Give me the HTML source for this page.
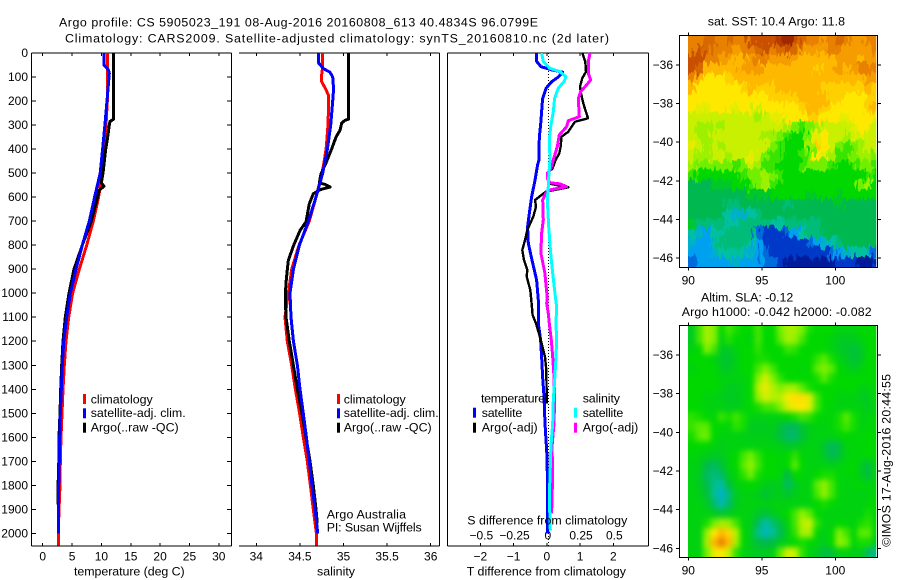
<!DOCTYPE html>
<html lang="en">
<head>
<meta charset="utf-8">
<title>Argo profile CS 5905023_191</title>
<style>
html,body{margin:0;padding:0;background:#fff;}
svg{display:block;}
text{font-family:"Liberation Sans",Arial,sans-serif;font-size:12px;fill:#000;}
text[textLength]{font-size:12.4px;}
</style>
</head>
<body>
<svg id="fig" width="900" height="580" viewBox="0 0 900 580" xmlns="http://www.w3.org/2000/svg">
<defs>
<clipPath id="clip-sst"><rect x="688" y="35.3" width="188.3" height="231.7"/></clipPath>
<clipPath id="clip-sla"><rect x="688" y="325.7" width="188.3" height="231.6"/></clipPath>
<filter id="soft" filterUnits="userSpaceOnUse" x="660" y="300" width="240" height="280" color-interpolation-filters="sRGB"><feGaussianBlur stdDeviation="2.6 3"/></filter>
<filter id="jagged" filterUnits="userSpaceOnUse" x="660" y="10" width="240" height="285" color-interpolation-filters="sRGB">
<feTurbulence type="fractalNoise" baseFrequency="0.28 0.09" numOctaves="2" seed="4" result="noise"/>
<feDisplacementMap in="SourceGraphic" in2="noise" scale="16" xChannelSelector="R" yChannelSelector="G"/>
</filter>
</defs>
<rect width="900" height="580" fill="#fff"/>

<text x="59" y="26.7" textLength="479">Argo profile: CS 5905023_191 08-Aug-2016 20160808_613 40.4834S 96.0799E</text>
<text x="65" y="42.3" textLength="544">Climatology: CARS2009. Satellite-adjusted climatology: synTS_20160810.nc (2d later)</text>

<g id="p1"></g>
<g id="p2"></g>
<g id="p3"></g>
<g id="m1"></g>
<g id="m2"></g>

<text x="74" y="575.7" textLength="110.7">temperature (deg C)</text>
<text x="317" y="575.7" textLength="38">salinity</text>
<text x="466.7" y="575.7" textLength="159.3">T difference from climatology</text>
<text x="467.3" y="524.3" textLength="160">S difference from climatology</text>

<g>
<rect x="83" y="394" width="3" height="10" fill="#f00"/>
<text x="90.7" y="403.3" textLength="62">climatology</text>
<rect x="83" y="408.3" width="3" height="10" fill="#00f"/>
<text x="90.7" y="417" textLength="95">satellite-adj. clim.</text>
<rect x="83" y="422.7" width="3" height="10" fill="#000"/>
<text x="90.7" y="431.3" textLength="88">Argo(..raw -QC)</text>
</g>
<g>
<rect x="337" y="394" width="3" height="10" fill="#f00"/>
<text x="343.7" y="403.3" textLength="62">climatology</text>
<rect x="337" y="408.3" width="3" height="10" fill="#00f"/>
<text x="343.7" y="417" textLength="95">satellite-adj. clim.</text>
<rect x="337" y="422.7" width="3" height="10" fill="#000"/>
<text x="343.7" y="431.3" textLength="88">Argo(..raw -QC)</text>
</g>
<text x="326.7" y="518.3" textLength="79.3">Argo Australia</text>
<text x="326.7" y="531.7" textLength="95">PI: Susan Wijffels</text>

<g>
<text x="481" y="402.7" textLength="64">temperature</text>
<text x="582.7" y="402.7" textLength="37.3">salinity</text>
<rect x="473" y="407.7" width="3" height="10" fill="#00f"/>
<text x="481.7" y="417" textLength="40.6">satellite</text>
<rect x="473" y="422.7" width="3" height="10" fill="#000"/>
<text x="481.7" y="431.3" textLength="56">Argo(-adj)</text>
<rect x="574" y="407.7" width="3" height="10" fill="#0ff"/>
<text x="582.7" y="417" textLength="40.6">satellite</text>
<rect x="574" y="422.7" width="3" height="10" fill="#f0f"/>
<text x="582.7" y="431.3" textLength="55.6">Argo(-adj)</text>
</g>

<text x="707.7" y="25.3" textLength="137.3">sat. SST: 10.4 Argo: 11.8</text>
<text x="701" y="301.7" textLength="92.3">Altim. SLA: -0.12</text>
<text x="681.7" y="316" textLength="190">Argo h1000: -0.042 h2000: -0.082</text>
<text transform="translate(890.7 546.7) rotate(-90)" textLength="172.7">©IMOS 17-Aug-2016 20:44:55</text>
</svg>

<script>
// ---------- profile data ----------
const depthTicks = [0,100,200,300,400,500,600,700,800,900,1000,1100,1200,1300,1400,1500,1600,1700,1800,1900,2000];
const tempTicks = [0,5,10,15,20,25,30];
const salTicks = [34,34.5,35,35.5,36];
const salTickLabels = ['34','34.5','35','35.5','36'];
const tDiffTicks = [-2,-1,0,1,2];
const tDiffTickLabels = ['\u22122','\u22121','0','1','2'];
const sDiffTicks = [-0.5,-0.25,0,0.25,0.5];
const sDiffTickLabels = ['\u22120.5','\u22120.25','0','0.25','0.5'];
const lonTicks = [90,95,100];
const latTicks = [-36,-38,-40,-42,-44,-46];
const latTickLabels = ['\u221236','\u221238','\u221240','\u221242','\u221244','\u221246'];

const tempClimDepth = [0,70,100,200,300,400,500,600,700,800,900,1000,1100,1200,1300,1400,1500,1600,1700,1800,1900,2000,2050];
const tempClim = [11.0,11.0,11.07,11.0,10.78,10.5,10.16,9.53,8.62,7.49,6.24,5.1,4.43,3.97,3.68,3.45,3.28,3.11,3.0,2.95,2.78,2.66,2.66];
const tempSatDepth = [0,50,70,85,165,200,300,400,500,600,700,800,900,1000,1100,1200,1300,1400,1500,1600,1700,1800,1900,2000];
const tempSat = [10.44,10.44,11.18,11.35,11.07,10.96,10.6,10.2,9.8,8.85,7.94,6.75,5.67,4.7,4.09,3.57,3.34,3.17,3.0,2.89,2.83,2.72,2.66,2.66];
const tempArgoDepth = [0,275,285,300,350,400,500,540,555,570,600,700,800,900,1000,1100,1200,1300,1400,1500,1600,1700,1800,1900];
const tempArgo = [12.1,12.1,11.46,11.35,11.07,10.73,10.27,9.98,10.44,9.65,9.36,8.28,6.75,5.33,4.48,3.85,3.45,3.23,3.06,2.95,2.78,2.75,2.62,2.66];

const salClimDepth = [0,70,100,120,150,175,200,300,400,470,500,600,700,800,900,1000,1100,1200,1300,1400,1500,1600,1700,1800,1900,2000,2050];
const salClim = [34.757,34.757,34.746,34.75,34.796,34.826,34.83,34.822,34.8,34.769,34.753,34.685,34.608,34.49,34.406,34.367,34.329,34.356,34.406,34.448,34.497,34.539,34.585,34.62,34.654,34.689,34.689];
const salSatDepth = [0,40,65,80,100,150,200,300,400,500,600,700,800,900,1000,1100,1200,1300,1400,1500,1600,1700,1800,1900,2000];
const salSat = [34.711,34.711,34.769,34.845,34.876,34.887,34.876,34.853,34.815,34.761,34.685,34.597,34.494,34.425,34.386,34.398,34.425,34.471,34.501,34.539,34.574,34.608,34.639,34.674,34.704];
const salArgoDepth = [0,275,280,292,322,350,400,461,503,541,547,558,569,586,628,703,739,803,864,903,961,1003,1040,1100,1200,1300,1400,1500,1600,1700,1800,1900,1960];
const salArgo = [35.059,35.059,35.017,34.979,34.96,34.914,34.864,34.796,34.742,34.723,34.788,34.845,34.731,34.654,34.608,34.57,34.501,34.425,34.367,34.356,34.34,34.335,34.335,34.341,34.379,34.425,34.471,34.524,34.57,34.616,34.654,34.685,34.7];

const dtSatDepth = [0,35,57,70,80,100,120,147,190,245,300,350,445,466,530,600,668,723,792,862,945,1028,1125,1195,1264,1347,1431,1542,1680,1819,1958,2000];
const dtSat = [-0.316,-0.306,-0.175,0.145,0.476,0.346,0.145,-0.025,-0.125,-0.155,-0.185,-0.226,-0.236,-0.276,-0.356,-0.456,-0.526,-0.576,-0.556,-0.446,-0.306,-0.256,-0.256,-0.185,-0.155,-0.125,-0.085,-0.055,0.005,0.025,0.025,0.025];
const dtArgoDepth = [0,36,78,105,140,168,210,272,286,307,328,348,390,418,445,480,501,543,559,577,612,640,681,737,779,820,862,903,931,987,1042,1091,1126,1168,1209,1265,1320,1404,1459];
const dtArgo = [1.068,1.158,1.178,1.068,0.998,1.028,1.098,1.238,0.847,0.747,0.647,0.446,0.416,0.376,0.266,0.175,0.015,0.045,0.647,-0.025,-0.356,-0.326,-0.406,-0.586,-0.657,-0.737,-0.687,-0.586,-0.606,-0.496,-0.456,-0.426,-0.326,-0.236,-0.155,-0.055,-0.015,-0.005,-0.005];
const dsSatDepth = [0,36,64,78,99,119,147,189,244,307,362,445,501,556,612,723,834,917,987,1056,1126,1195,1265,1347,1445,1542,1640,1723,1848,1987];
const dsSat = [-0.039,-0.026,0.024,0.099,0.144,0.129,0.086,0.059,0.049,0.029,0.019,0.024,0.016,0.011,0.004,0.014,0.029,0.044,0.059,0.074,0.069,0.074,0.069,0.061,0.049,0.044,0.031,0.026,0.019,0.026];
const dsArgoDepth = [0,36,85,112,133,161,189,265,282,307,341,390,445,480,501,522,540,545,556,570,581,612,695,751,834,917,1021,1042,1084,1126,1195,1265,1348,1445,1542,1640,1751,1918];
const dsArgo = [0.325,0.312,0.312,0.33,0.299,0.254,0.237,0.244,0.162,0.149,0.094,0.079,0.049,0.031,0.004,0.004,0.024,0.099,0.149,0.024,-0.006,-0.031,-0.026,-0.039,-0.044,-0.014,0.004,-0.001,0.011,0.019,0.034,0.044,0.054,0.059,0.054,0.039,0.044,0.036];
const zeroLineValue = [0.05,0.05];
const zeroLineDepth = [0,2050];

// ---------- map grids: 0.5 degree cells, colour level values ----------
const sstGrid = [
[10,10,10.5,10.5,10,10.5,10,10,11,11,11,11,11.5,12,11,10.5,10,10,9.5,10,10.5,10,9.5,9.5,10,10],
[10,11,10.5,10,10,10,9.5,10,10,10.5,11,10,10.5,11,10.5,9.5,9.5,9.5,9.5,10,10,9.5,9.5,9.5,9.5,10],
[11,11,10,10,9.5,9.5,9,9,9.5,10,10,9.5,9.5,9.5,9.5,9,9,9,9,9,9.5,9.5,9.5,9,9.5,9.5],
[11,10.5,9,9,9,9,9,9.5,9.5,9.5,9,9,9,9,9,9,9,8.5,9,9,9.5,9,9.5,10,10,10],
[10,9,8,8,8,8.5,9,9,9,9,9,9,9,9,9,9,9,9,9,9,9,9,9,9,9.5,9.5],
[9,8,8,8,8,8,8,8.5,9,8.5,8.5,8.5,9,9,9,9,9,9,8.5,8.5,8.5,8.5,8.5,8.5,9,8.5],
[8,8,8,8,8,8,8,8,8,8,8,8.5,8.5,8.5,8.5,9,9,9,9,8.5,8.5,8,8,8,8.5,8.5],
[8,7.5,7.5,8,8,8,7.5,8,8,7,8,8,8,8,8,8.5,9,9,8.5,8,8,8,8,8,8.5,9],
[7,7,7,7,7,7,7,7,7,6.5,7,7.5,7.5,8,8,8,8.5,8.5,8,8,8,7.5,8,8,8,7.5],
[7,6.5,6.5,7,6.5,7,7,7,7,7,7,7,7,6.5,6,5.5,6,6.5,7,7,7,7,7.5,8,8,7],
[7,6.5,6.5,7,7,7,7,7,7,7,6.5,6.5,6,5.5,5,5,6,7.5,8,7,7,6.5,7,7.5,7,7],
[7.5,7,6.5,7,6.5,7,7,7,7,7,7,6,5.5,5,5,5,6.5,8.5,8,7,6,5.5,6,6.5,7,7],
[7,6.5,6.5,7,7,6.5,7,7,7.5,7,6,5.5,5.5,5,5,5.5,6,8,7.5,6.5,5.5,5.5,6,6.5,6.5,6],
[6.5,6,6,6,6,6,5.5,6,7,6.5,5.5,5.5,5,5,5,5.5,6,6,6,5.5,5,5,5.5,6,6,5.5],
[5.5,5,5,5,5,5,5,5.5,6,6,6.5,6,5.5,5,5,5,5,5,5,5,5,5,5,5,5.5,5],
[4,4,4,4.5,4.5,4.5,5,5,5.5,6,6.5,5.5,5,5,5,5,5,5,5,5,5,5,5,6,6.5,5],
[4,4,4,4,4,4,4,4,4.5,4.5,4.5,5,5,5,5,5,4.5,5,5,5,4.5,5,5,5,5,5],
[4,4,4,4,4,3.5,3.5,4,4,4,4,4,4,3.5,4,4,4,4,4,4,4.5,4,4,4,4,4],
[4,4,4,4,4,3,2.5,2.5,3,3.5,4,4,4,4,4,4,4,4,4,4,4,4,4,4,4,4],
[4.5,3.5,3.5,3.5,3.5,3,3,3.5,3.5,3.5,3.5,3,3,3.5,3.5,3.5,3.5,3.5,4,4,4,4,4,4,4,4],
[3,2.5,2,3,3,3.5,3.5,3.5,3.5,1.5,1,1,1,1.5,2,3,3.5,3.5,4,4,4,4,4,4,4,4],
[2.5,2,2,3,3.5,3.5,3.5,3.5,3,2,1,1,1,1,1,1,1.5,2,2.5,3,3.5,4,4,4,4,4],
[2,2,2,2.5,3,3,3,3,2.5,2,1.5,1,1,1,1,1,1,1,1,1.5,2,2.5,3,3,2.5,1.5],
[1.5,2,2,2,2,2,2.5,2,2,2,1.5,1.5,1,0.5,0.5,0.5,0.5,0.5,0.5,0.5,1,1,1,0.5,0.5,1]
];
const slaGrid = [
[4.6,5.6,6.6,6.2,5,5.6,5.2,5,5,5.6,5,5,6,6.6,6.6,6,5.2,5,5,5,4.8,4.8,4.8,5,5,5],
[4.6,5.6,6.6,6.2,4.8,5.3,5,5,4.8,5.6,5,5,5.8,6.6,6.4,5.6,5,5,5,4.8,4.6,4.6,4.6,4.8,5,5],
[4.8,5,6.2,5.6,4.6,4.6,4.8,5,5,5.4,5,5,5,5.5,5.4,5,5,5,5,4.8,4.6,4.4,4.3,4.5,5,5],
[5,5,5,4.8,4.5,4.4,4.7,5,5,5.2,5.2,5,5,5,5,5,5,5.4,5.8,5.2,4.8,4.6,4.3,4.5,5,5],
[4.8,5,5,5,4.6,4.5,4.8,5,5,5.6,6.2,5.6,5,5,5,4.9,5,5.8,6.2,5.8,5,4.8,4.6,4.8,5,5],
[5,5,5,5,4.8,4.8,4.8,4.8,5,6.2,7.2,6.2,5.4,5,5,5,5,5.2,5.8,5.2,5,5,5,5,5,5],
[5,5,5,5,4.8,4.6,4.6,4.8,5,6.8,7.6,6.8,6.2,6.6,6.6,5.8,5.2,5,5,5,5,5,5,4.8,4.8,5],
[5,5,4.8,4.8,4.7,4.6,4.6,4.8,5,6.4,7.2,6.8,6.8,7.8,8.2,8.2,7.4,5.6,5,5,4.8,4.8,4.8,4.6,4.6,5],
[5,5,4.8,4.8,4.8,4.6,4.7,4.8,5,5.2,5.6,5.6,6.2,7.2,7.8,8,7.4,5.6,5,4.9,4.8,4.8,4.8,4.8,4.6,4.8],
[5.4,5.2,5,4.9,5.5,5.2,5.6,5.2,4.8,4.8,4.8,4.8,4.8,5,5.2,5.6,5.4,5,4.9,4.9,5.2,5.8,5.2,4.8,4.8,5],
[5.5,5.8,5.8,5,5,4.9,5.4,5.2,4.6,4.6,4.6,4.7,4.3,3.9,3.9,4.4,4.7,4.8,4.8,4.9,5.2,5.6,5.2,4.8,4.9,5],
[5.2,5.8,6,5,4.8,4.8,4.8,4.7,4.7,4.7,4.7,4.6,4.2,3.7,3.7,4.3,4.7,4.8,4.8,4.8,4.9,5,4.9,4.9,5,5],
[5,5,5,4.8,4.7,4.8,4.8,4.8,4.8,4.8,4.8,4.8,4.7,4.5,4.5,4.7,4.8,4.8,4.4,3.8,4.2,4.8,4.9,4.9,5,5],
[4.9,4.8,4.7,4.6,4.6,4.8,5,5.6,6,5.4,5,5,4.9,5,5.4,4.9,4.8,4.8,4.5,3.9,4.3,4.8,4.9,4.9,5,5],
[4.8,4.7,4.1,3.8,4.3,4.8,5,5.8,6.4,5.6,5,5,4.9,5,5.8,5,4.8,4.8,4.8,4.7,4.8,4.9,5,4.6,4.2,4.8],
[4.8,4.6,3.8,3.5,3.7,4.6,4.9,5.4,6,5.2,5,5,4.9,4.1,5,4.9,4.8,5,5.2,5.2,4.9,4.9,5,4.6,4.2,4.8],
[4.8,4.6,4.1,3.3,2.9,4.2,4.8,4.9,5,4.9,4.7,4.6,4.7,3.7,4.5,4.8,4.8,5.8,6.4,5.6,4.9,4.8,4.9,4.9,4.8,4.9],
[4.8,4.7,4.3,3.2,2.5,3.4,4.6,4.8,4.8,4.7,4.3,4.6,4.7,4.4,4.7,4.8,4.8,5.6,6.4,5.6,4.9,4.8,4.8,4.8,4.8,4.9],
[4.8,4.8,4.6,3.7,2.8,3.7,4.6,4.8,4.8,4.8,4.7,4.8,4.8,4.8,4.8,4.8,4.8,5,5.2,5,4.8,4.8,4.8,4.8,4.9,5],
[4.8,4.8,4.8,4.6,4.4,4.6,4.8,4.8,4.8,4.5,4.3,4.6,4.8,5,5.6,6.4,5.8,5,4.8,4.8,4.8,4.8,4.8,4.8,5.2,4.9],
[4.8,4.8,5.2,6,6.6,6.4,5.6,4.8,4.7,3.8,2.9,3.5,4.3,4.8,5.6,6.8,7,5.4,4.8,4.8,5,4.9,4.8,5.2,5.4,5],
[4.8,4.8,6.4,8,9,8.4,6.8,5,4.6,3.3,2.7,3.1,3.9,4.7,5.4,6.6,6.6,5,4.7,5,6.2,5.6,4.9,5.8,5.8,4.9],
[4.8,4.8,6.6,9,10,9,6.6,5,4.6,4.2,4,4.2,4.6,4.8,5,5.2,5,4.8,4.6,5,6.4,6,4.9,5.2,5.2,4.6],
[4.8,4.8,6,7.6,8,7,5.4,4.8,4.7,4.6,4.6,4.7,5.8,7.2,7,5.4,4.8,4.6,4.2,4.3,4.8,4.8,4.7,4.7,3.8,3.2]
];

// ---------- helpers ----------
const NS = 'http://www.w3.org/2000/svg';
function make(parent, tag, attrs) {
  const el = document.createElementNS(NS, tag);
  for (const k in attrs) el.setAttribute(k, attrs[k]);
  parent.appendChild(el);
  return el;
}
function hline(parent, x1, x2, y) {
  return make(parent, 'line', {x1: x1, x2: x2, y1: y, y2: y, stroke: '#000', 'stroke-width': 1, 'shape-rendering': 'crispEdges'});
}
function vline(parent, x, y1, y2) {
  return make(parent, 'line', {x1: x, x2: x, y1: y1, y2: y2, stroke: '#000', 'stroke-width': 1, 'shape-rendering': 'crispEdges'});
}
function label(parent, x, y, str, anchor) {
  const t = make(parent, 'text', {x: x, y: y, 'text-anchor': anchor});
  t.textContent = str;
  return t;
}

// ---------- axis functions ----------
const plotTop = 53, plotBottom = 546;
const depthY = d => 53 + 0.2402 * d;
const tempX = t => 42.7 + 5.87 * t;
const salX = s => 256.3 + 87.2 * (s - 34);
const dtX = v => 546.8 + 33.25 * v;
const dsX = v => 546.8 + 133 * v;

function profileLine(parent, depths, values, xf, color, width) {
  const pts = depths.map((d, i) => xf(values[i]).toFixed(1) + ',' + depthY(d).toFixed(1)).join(' ');
  return make(parent, 'polyline', {points: pts, fill: 'none', stroke: color, 'stroke-width': width, 'stroke-linejoin': 'round', 'shape-rendering': 'crispEdges'});
}

// ---------- panel 1: temperature ----------
const p1 = document.getElementById('p1');
let el;
el = hline(p1, 31.5, 231.5, plotTop);


el = hline(p1, 31.5, 231.5, plotBottom);


el = vline(p1, 31.5, plotTop, plotBottom);


el = vline(p1, 231.5, plotTop, plotBottom);


depthTicks.forEach(d => {
  const y = depthY(d);
  let e = hline(p1, 31.5, 36, y);
  
  
  e = hline(p1, 227, 231.5, y);
  
  
  e = label(p1, 28, y + 4, String(d), 'end');
  
  
});
tempTicks.forEach(t => {
  const x = tempX(t);
  let e = vline(p1, x, plotTop, plotTop + 3);
  
  
  e = vline(p1, x, plotBottom - 3, plotBottom);
  
  
  e = label(p1, x, 560.7, String(t), 'middle');
  
  
});
el = profileLine(p1, tempClimDepth, tempClim, tempX, '#f00', 3);


el = profileLine(p1, tempArgoDepth, tempArgo, tempX, '#000', 3);


el = profileLine(p1, tempSatDepth, tempSat, tempX, '#00f', 3);



// ---------- panel 2: salinity ----------
const p2 = document.getElementById('p2');
el = hline(p2, 239, 439.5, plotTop);


el = hline(p2, 239, 439.5, plotBottom);


el = vline(p2, 439.5, plotTop, plotBottom);


salTicks.forEach((s, i) => {
  const x = salX(s);
  let e = vline(p2, x, plotTop, plotTop + 3);
  
  
  e = vline(p2, x, plotBottom - 3, plotBottom);
  
  
  e = label(p2, x, 560.7, salTickLabels[i], 'middle');
  
  
});
el = profileLine(p2, salClimDepth, salClim, salX, '#f00', 3);


el = profileLine(p2, salArgoDepth, salArgo, salX, '#000', 3);


el = profileLine(p2, salSatDepth, salSat, salX, '#00f', 3);



// ---------- panel 3: differences ----------
const p3 = document.getElementById('p3');
el = hline(p3, 447.5, 648.5, plotTop);


el = hline(p3, 447.5, 648.5, plotBottom);


el = vline(p3, 447.5, plotTop, plotBottom);


el = vline(p3, 648.5, plotTop, plotBottom);


tDiffTicks.forEach((v, i) => {
  const x = dtX(v);
  let e = vline(p3, x, plotTop, plotTop + 3);
  
  
  e = vline(p3, x, plotBottom - 3, plotBottom);
  
  
  e = label(p3, x, 560.7, tDiffTickLabels[i], 'middle');
  
  
});
sDiffTicks.forEach((v, i) => {
  const e = label(p3, dsX(v) + 1, 539.3, sDiffTickLabels[i], 'middle');
  
  
});
el = profileLine(p3, zeroLineDepth, zeroLineValue, dtX, '#000', 1);
el.setAttribute('stroke-dasharray', '1 2');


el = profileLine(p3, dtSatDepth, dtSat, dtX, '#00f', 3);


el = profileLine(p3, dtArgoDepth, dtArgo, dtX, '#000', 2.4);


el = profileLine(p3, dsArgoDepth, dsArgo, dsX, '#f0f', 3);


el = profileLine(p3, dsSatDepth, dsSat, dsX, '#0ff', 3);



// ---------- maps ----------
const paletteStops = ['#00006e','#0038c8','#00a0f0','#00c0a0','#00b850','#00d800','#70f000','#c8f000','#ffe800','#ffb800','#e88000','#c85000','#a02800'];
function levelColor(v) {
  const i = Math.max(0, Math.min(paletteStops.length - 2, Math.floor(v)));
  const f = Math.max(0, Math.min(1, v - i));
  const a = paletteStops[i], b = paletteStops[i + 1];
  let out = '#';
  for (let c = 1; c < 7; c += 2) {
    const m = Math.round(parseInt(a.substr(c, 2), 16) * (1 - f) + parseInt(b.substr(c, 2), 16) * f);
    out += m.toString(16).padStart(2, '0');
  }
  return out;
}
const lonX = lon => 688.3 + 14.7 * (lon - 90);
const gridLon0 = 90, gridLat0 = -34.45, gridStep = 0.5;

function drawMap(parentId, grid, latYf, top, bottom, clipId, filterId, cellName, tickPrefix) {
  const g = document.getElementById(parentId);
  const clip = make(g, 'g', {'clip-path': 'url(#' + clipId + ')'});
  const inner = make(clip, 'g', {filter: 'url(#' + filterId + ')'});
  grid.forEach((row, r) => {
    row.forEach((v, c) => {
      const x0 = lonX(gridLon0 + c * gridStep), x1 = lonX(gridLon0 + (c + 1) * gridStep);
      const y0 = latYf(gridLat0 - r * gridStep), y1 = latYf(gridLat0 - (r + 1) * gridStep);
      const pad = 14;
      const rx = c === 0 ? x0 - pad : x0;
      const rr = c === row.length - 1 ? x1 + pad : x1 + 0.5;
      const ry = r === 0 ? y0 - pad : y0;
      const rb = r === grid.length - 1 ? y1 + pad : y1 + 0.5;
      const cell = make(inner, 'rect', {x: rx.toFixed(1), y: ry.toFixed(1), width: (rr - rx).toFixed(1), height: (rb - ry).toFixed(1), fill: levelColor(v)});
      
      
    });
  });
  const frame = make(g, 'rect', {x: 679.5, y: top, width: 198, height: bottom - top, fill: 'none', stroke: '#000', 'stroke-width': 1, 'shape-rendering': 'crispEdges'});
  
  
  lonTicks.forEach(lon => {
    const x = lonX(lon);
    let e = vline(g, x, top - 3, top);
    
    
    e = vline(g, x, bottom, bottom + 3);
    
    
    e = label(g, x, bottom + 17, String(lon), 'middle');
    
    
  });
  latTicks.forEach((lat, i) => {
    const y = latYf(lat);
    let e = hline(g, 676, 679.5, y);
    
    
    e = hline(g, 877.5, 881, y);
    
    
    e = label(g, 673, y + 4, latTickLabels[i], 'end');
    
    
  });
}
drawMap('m1', sstGrid, lat => 65 + (-36 - lat) * 19.3, 35.5, 267.5, 'clip-sst', 'jagged', 'sst-cell', 'sst');
drawMap('m2', slaGrid, lat => 355 + (-36 - lat) * 19.33, 325.5, 557.5, 'clip-sla', 'soft', 'sla-cell', 'sla');
</script>
</body>
</html>
